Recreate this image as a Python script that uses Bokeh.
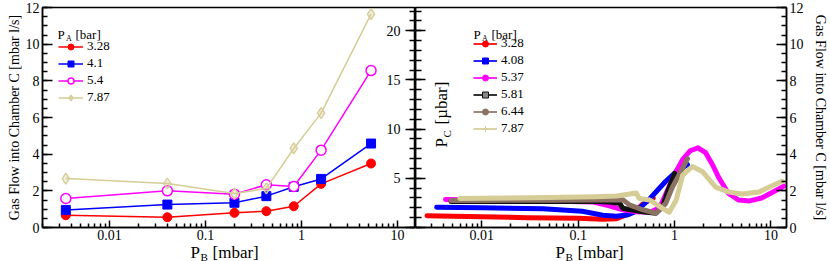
import math
from bokeh.plotting import figure
from bokeh.layouts import row, column
from bokeh.models import (Range1d, LinearAxis, FixedTicker, SingleIntervalTicker, Label,
                          Legend, LegendItem, BasicTickFormatter, CustomJSTickFormatter)
from bokeh.embed import file_html
from bokeh.resources import INLINE

FONT = "Liberation Serif"

# ---------------- left panel: gas flow into chamber C vs P_B ----------------
pb_points = [0.0035, 0.04, 0.2, 0.43, 0.83, 1.6, 5.3]
flow_pa_328 = [0.67, 0.56, 0.80, 0.89, 1.16, 2.38, 3.49]
flow_pa_41 = [0.95, 1.25, 1.35, 1.71, 2.22, 2.65, 4.58]
flow_pa_54 = [1.58, 2.00, 1.82, 2.33, 2.24, 4.22, 8.56]
flow_pa_787 = [2.67, 2.40, 1.85, 2.13, 4.31, 6.24, 11.64]
left_labels = ["3.28", "4.1", "5.4", "7.87"]

# ---------------- right panel: P_C [ubar] vs P_B ----------------
pb_328 = [0.0027, 0.005, 0.01, 0.03, 0.1, 0.18, 0.25, 0.31, 0.4, 0.47, 0.6]
pc_328 = [1.2, 1.15, 1.1, 1.0, 0.95, 0.85, 0.9, 1.25, 1.8, 2.4, 3.0]
pb_408 = [0.0034, 0.01, 0.043, 0.11, 0.18, 0.25, 0.33, 0.40, 0.55, 0.81, 1.05, 1.36]
pc_408 = [2.05, 2.0, 1.9, 1.65, 1.25, 1.15, 1.3, 1.65, 2.9, 4.7, 5.7, 6.4]
pb_537 = [0.0042, 0.01, 0.05, 0.14, 0.21, 0.29, 0.40, 0.55, 0.70, 0.88, 1.05, 1.21, 1.45,
          1.75, 2.1, 2.5, 2.9, 3.6, 4.6, 6.0, 8.0, 10.5, 13.6]
pc_537 = [2.85, 2.8, 2.7, 2.6, 2.2, 1.8, 1.6, 1.55, 2.0, 4.2, 5.8, 6.9, 7.8,
          8.1, 7.6, 6.3, 5.0, 3.5, 2.8, 2.7, 3.0, 3.6, 4.2]
pb_581 = [0.0048, 0.01, 0.05, 0.15, 0.21, 0.27, 0.29, 0.35, 0.47, 0.64, 0.75, 0.85, 1.0]
pc_581 = [2.65, 2.65, 2.65, 2.65, 2.6, 2.45, 1.95, 1.8, 1.6, 1.45, 2.1, 3.7, 5.5]
pb_644 = [0.0048, 0.01, 0.05, 0.15, 0.29, 0.34, 0.47, 0.64, 0.81, 0.95, 1.21, 1.36]
pc_644 = [2.75, 2.75, 2.78, 2.8, 2.83, 2.3, 1.8, 1.45, 2.45, 4.1, 6.0, 7.0]
pb_787 = [0.0059, 0.01, 0.05, 0.15, 0.25, 0.40, 0.43, 0.55, 0.75, 0.88, 1.04, 1.21, 1.53,
          1.94, 2.67, 3.67, 5.0, 7.5, 11.1, 13.1]
pc_787 = [2.95, 2.98, 3.05, 3.12, 3.2, 3.5, 2.95, 2.8, 1.95, 1.55, 2.8, 5.3, 6.2,
          5.7, 4.1, 3.6, 3.4, 3.6, 4.4, 4.7]
right_labels = ["3.28", "4.08", "5.37", "5.81", "6.44", "7.87"]

# ---------------- axes ----------------
x_major = [0.01, 0.1, 1, 10]
x_major_labels = ["0.01", "0.1", "1", "10"]
x_minor = [m * 10.0 ** e for e in range(-3, 2) for m in range(2, 10)]
pc_tick_labels = [5, 10, 15, 20]
flow_max = 12
pc_max = 22.36

RED, BLUE, MAG, BLK, BRN, KHA = "#ff0000", "#0000ff", "#ff00ff", "#111111", "#8b7262", "#d5cc96"

W, H = 415, 261
TOP, BOTTOM = 7, 34


def make_fig(xr, yr, **kw):
    p = figure(width=W, height=H, x_axis_type="log", x_range=xr, y_range=yr,
               output_backend="svg", toolbar_location=None, **kw)
    p.xgrid.visible = False
    p.ygrid.visible = False
    p.outline_line_color = "black"
    p.outline_line_width = 1.5
    p.background_fill_color = "white"
    p.border_fill_color = "white"
    return p


def style_axis(ax, tin=10, mtin=5):
    ax.axis_line_color = "black"
    ax.axis_line_width = 1.5
    ax.major_tick_line_color = "black"
    ax.major_tick_line_width = 1.5
    ax.minor_tick_line_color = "black"
    ax.minor_tick_line_width = 1.5
    ax.major_tick_in = tin
    ax.major_tick_out = 0
    ax.minor_tick_in = mtin
    ax.minor_tick_out = 0
    ax.major_label_text_font = FONT
    ax.major_label_text_font_size = "14px"
    ax.major_label_text_color = "black"
    ax.major_label_standoff = 3
    ax.axis_label_text_font = FONT
    ax.axis_label_text_font_style = "normal"
    ax.axis_label_text_font_size = "14px"
    ax.axis_label_text_color = "black"
    ax.axis_label_standoff = 1


def style_xaxis(p):
    ax = p.xaxis[0]
    ax.ticker = FixedTicker(ticks=x_major, minor_ticks=x_minor)
    ax.formatter = BasicTickFormatter()
    ax.major_label_overrides = {v: s for v, s in zip(x_major, x_major_labels)}
    style_axis(ax, tin=7, mtin=4)
    ax.major_label_standoff = 2


def lab(p, text, x, y, size, **kw):
    p.add_layout(Label(x=x, y=y, x_units="screen", y_units="screen", text=text,
                       text_font=FONT, text_font_size=size, text_color="black", **kw))


def legend_style(leg):
    leg.label_text_font = FONT
    leg.label_text_font_size = "13px"
    leg.label_text_color = "black"
    leg.glyph_width = 25
    leg.glyph_height = 15
    leg.label_height = 15
    leg.spacing = 1
    leg.padding = 0
    leg.margin = 0
    leg.label_standoff = 4
    leg.background_fill_alpha = 0
    leg.border_line_alpha = 0


# ======================= LEFT FIGURE =======================
p1 = make_fig(Range1d(0.002, 15.4), Range1d(0, flow_max),
              min_border_left=42, min_border_right=0, min_border_top=TOP, min_border_bottom=BOTTOM)
p1.extra_y_ranges = {"pc": Range1d(0, pc_max)}
style_xaxis(p1)
ya = p1.yaxis[0]
ya.ticker = SingleIntervalTicker(interval=2, num_minor_ticks=4)
ya.axis_label = "Gas Flow into Chamber C [mbar l/s]"
style_axis(ya, tin=10, mtin=5)

mid = LinearAxis(y_range_name="pc", ticker=SingleIntervalTicker(interval=5, num_minor_ticks=5),
                 formatter=CustomJSTickFormatter(code="return ''"))
style_axis(mid, tin=10, mtin=6)
mid.major_label_standoff = 0
p1.add_layout(mid, "right")

for v in pc_tick_labels:
    p1.add_layout(Label(x=358, y=v, x_units="screen", y_units="data", y_range_name="pc",
                        text=str(v), text_align="right", text_baseline="middle",
                        text_font=FONT, text_font_size="14px", text_color="black"))

series_left = [flow_pa_328, flow_pa_41, flow_pa_54, flow_pa_787]
cols_left = [RED, BLUE, MAG, KHA]
items = []
for ys, c, name in zip(series_left, cols_left, left_labels):
    lr = p1.line(pb_points, ys, line_color=c, line_width=1.5)
    if c == RED:
        sr = p1.scatter(pb_points, ys, marker="circle", size=9, fill_color=c, line_color=c)
    elif c == BLUE:
        sr = p1.scatter(pb_points, ys, marker="square", size=9, fill_color=c, line_color=c)
    elif c == MAG:
        sr = p1.scatter(pb_points, ys, marker="circle", size=10, fill_color="white",
                        line_color=c, line_width=1.5)
    else:
        sr = p1.scatter(pb_points, ys, marker="diamond", size=11, fill_color=c, fill_alpha=0.35,
                        line_color=c, line_width=1.3)
    items.append(LegendItem(label=name, renderers=[lr, sr]))
leg1 = Legend(items=items, location=(16, 122))
legend_style(leg1)
p1.add_layout(leg1)

lab(p1, "P", 15, 193, "13px", text_baseline="middle")
lab(p1, "A", 23.5, 189, "8px", text_baseline="middle")
lab(p1, "[bar]", 33, 193, "13px", text_baseline="middle")

# ======================= RIGHT FIGURE =======================
p2 = make_fig(Range1d(0.00205, 14.5), Range1d(0, pc_max),
              min_border_left=0, min_border_right=43, min_border_top=TOP, min_border_bottom=BOTTOM)
p2.extra_y_ranges = {"flow": Range1d(0, flow_max)}
style_xaxis(p2)
yl = p2.yaxis[0]
yl.ticker = SingleIntervalTicker(interval=5, num_minor_ticks=5)
yl.formatter = CustomJSTickFormatter(code="return ''")
style_axis(yl, tin=10, mtin=6)
yl.major_label_standoff = 0

ra = LinearAxis(y_range_name="flow", ticker=SingleIntervalTicker(interval=2, num_minor_ticks=4),
                axis_label="Gas Flow into Chamber C [mbar l/s]")
style_axis(ra, tin=10, mtin=5)
ra.axis_label_standoff = 6
p2.add_layout(ra, "right")

curves = [(pb_328, pc_328, RED), (pb_408, pc_408, BLUE), (pb_537, pc_537, MAG),
          (pb_581, pc_581, BLK), (pb_644, pc_644, BRN), (pb_787, pc_787, KHA)]
for xs, ys, c in curves:
    p2.line(xs, ys, line_color=c, line_width=5, line_join="round", line_cap="round")

leg_markers = [("circle", 3, RED, RED), ("square", 3, BLUE, BLUE), ("circle", 4, MAG, MAG),
               ("square", 5, "#888888", BLK), ("circle", 4, BRN, BRN), ("cross", 5, KHA, KHA)]
items2 = []
for (xs, ys, _), (mk, sz, fc, lc), name in zip(curves, leg_markers, right_labels):
    dl = p2.line(xs, ys, line_color=lc, line_width=2, line_alpha=0.85, visible=False)
    ds = p2.scatter(xs, ys, marker=mk, size=sz, fill_color=fc, line_color=lc, line_width=1,
                    visible=False)
    items2.append(LegendItem(label=name, renderers=[dl, ds]))
leg2 = Legend(items=items2, location=(58, 91))
legend_style(leg2)
leg2.glyph_width = 24
p2.add_layout(leg2)

lab(p2, "P", 58, 193, "13px", text_baseline="middle")
lab(p2, "A", 66.5, 189, "8px", text_baseline="middle")
lab(p2, "[bar]", 76, 193, "13px", text_baseline="middle")
# rotated P_C [ubar]
lab(p2, "P", 26, 80, "17px", text_baseline="middle", angle=math.pi / 2)
lab(p2, "C", 31, 90, "11px", text_baseline="middle", angle=math.pi / 2)
lab(p2, "[µbar]", 26, 103, "17px", text_baseline="middle", angle=math.pi / 2)

# ======================= X-AXIS TITLES (transparent strip overlapping the bottom) ==========
LH = 22
pl = figure(width=2 * W, height=LH, x_range=Range1d(0, 2 * W), y_range=Range1d(0, LH),
            output_backend="svg", toolbar_location=None, min_border=0,
            x_axis_location=None, y_axis_location=None, margin=(-LH, 0, 0, 0))
pl.xgrid.visible = False
pl.ygrid.visible = False
pl.outline_line_color = None
pl.background_fill_alpha = 0
pl.border_fill_alpha = 0
for x0 in (190, 555):
    lab(pl, "P", x0, 9, "17px", text_baseline="alphabetic")
    lab(pl, "B", x0 + 10, 5, "11px", text_baseline="alphabetic")
    lab(pl, "[mbar]", x0 + 22, 9, "17px", text_baseline="alphabetic")

layout = column(row(p1, p2), pl)
open("out.html", "w").write(file_html(layout, INLINE))
